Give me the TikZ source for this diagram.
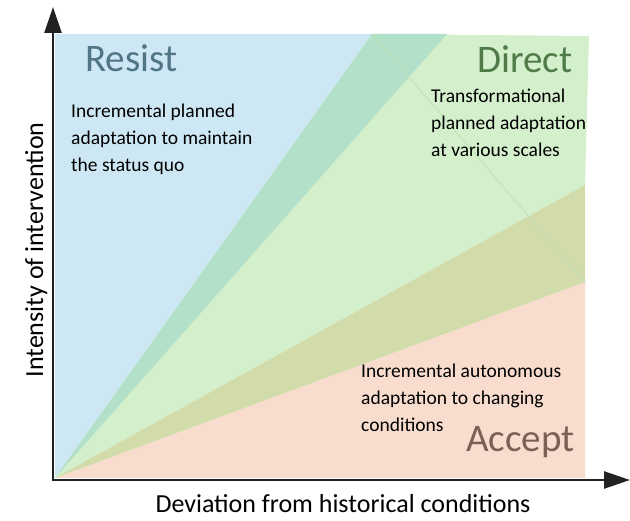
\documentclass[tikz,border=0pt]{standalone}
\usepackage{fontspec}
\setmainfont{Carlito}
\usetikzlibrary{arrows.meta}

\definecolor{resistfill}{HTML}{CDE8F4}
\definecolor{overlapteal}{HTML}{B3E0C8}
\definecolor{directfill}{HTML}{D4EFCB}
\definecolor{overlapolive}{HTML}{D2DCAA}
\definecolor{acceptfill}{HTML}{F8DCCD}
\definecolor{seamgreen}{HTML}{BFE2B5}
\definecolor{resisttext}{HTML}{517585}
\definecolor{directtext}{HTML}{4F7B48}
\definecolor{accepttext}{HTML}{7D5F56}
\definecolor{axisgray}{HTML}{222222}

\begin{document}
\begin{tikzpicture}[x=1pt,y=-1pt,
  heading/.style={font=\fontsize{39}{39}\selectfont, anchor=base west, inner sep=0pt},
  % a multi-line node's base anchor sits on its last line
  note/.style={font=\fontsize{19.5}{27}\selectfont, anchor=base west, align=left, inner sep=0pt},
  axislabel/.style={font=\fontsize{26}{26}\selectfont, anchor=base, inner sep=0pt},
  axisline/.style={draw=axisgray, line width=2.5pt, -{Triangle[length=26pt,width=17pt]}}]

\useasboundingbox (0,0) rectangle (630,521);

% fan corners
\coordinate (O) at (55,478);
\coordinate (rtop) at (55,34);
\coordinate (dleft) at (372,34);
\coordinate (rright) at (447,34);
\coordinate (dtop) at (589,36);
\coordinate (dlow) at (585,185);
\coordinate (aup) at (585,282);
\coordinate (abot) at (585,478);

% sectors
\fill[resistfill] (O) -- (rtop) -- (rright) -- cycle;
\fill[directfill] (O) -- (dleft) -- (dtop) -- (dlow) -- cycle;
\fill[acceptfill] (O) -- (aup) -- (abot) -- cycle;
\fill[overlapteal] (O) -- (dleft) -- (rright) -- cycle;
\fill[overlapolive] (O) -- (dlow) -- (aup) -- cycle;
\draw[seamgreen, line width=0.8pt] (dleft) -- (aup);

% axes
\coordinate (xend) at (630,480);
\coordinate (yend) at (53,7);
\coordinate (origin) at (53,480);
\draw[axisline] ([xshift=-1.25pt]origin) -- (xend);
\draw[axisline] ([yshift=1.25pt]origin) -- (yend);

% headings
\node[heading, text=resisttext] (resist) at (85,72) {Resist};
\node[heading, text=directtext] (direct) at (477,73) {Direct};
\node[heading, text=accepttext] (accept) at (466,452) {Accept};

% descriptions
\node[note] (resistnote) at (71,172) {Incremental planned\\adaptation to maintain\\the status quo};
\node[note] (directnote) at (431,157) {Transformational\\planned adaptation\\at various scales};
\node[note] (acceptnote) at (361,432) {Incremental autonomous\\adaptation to changing\\conditions};

% axis titles
\node[axislabel] (xlabel) at (343,513) {Deviation from historical conditions};
\node[axislabel, rotate=90] (ylabel) at (43,250) {Intensity of intervention};
\end{tikzpicture}
\end{document}
